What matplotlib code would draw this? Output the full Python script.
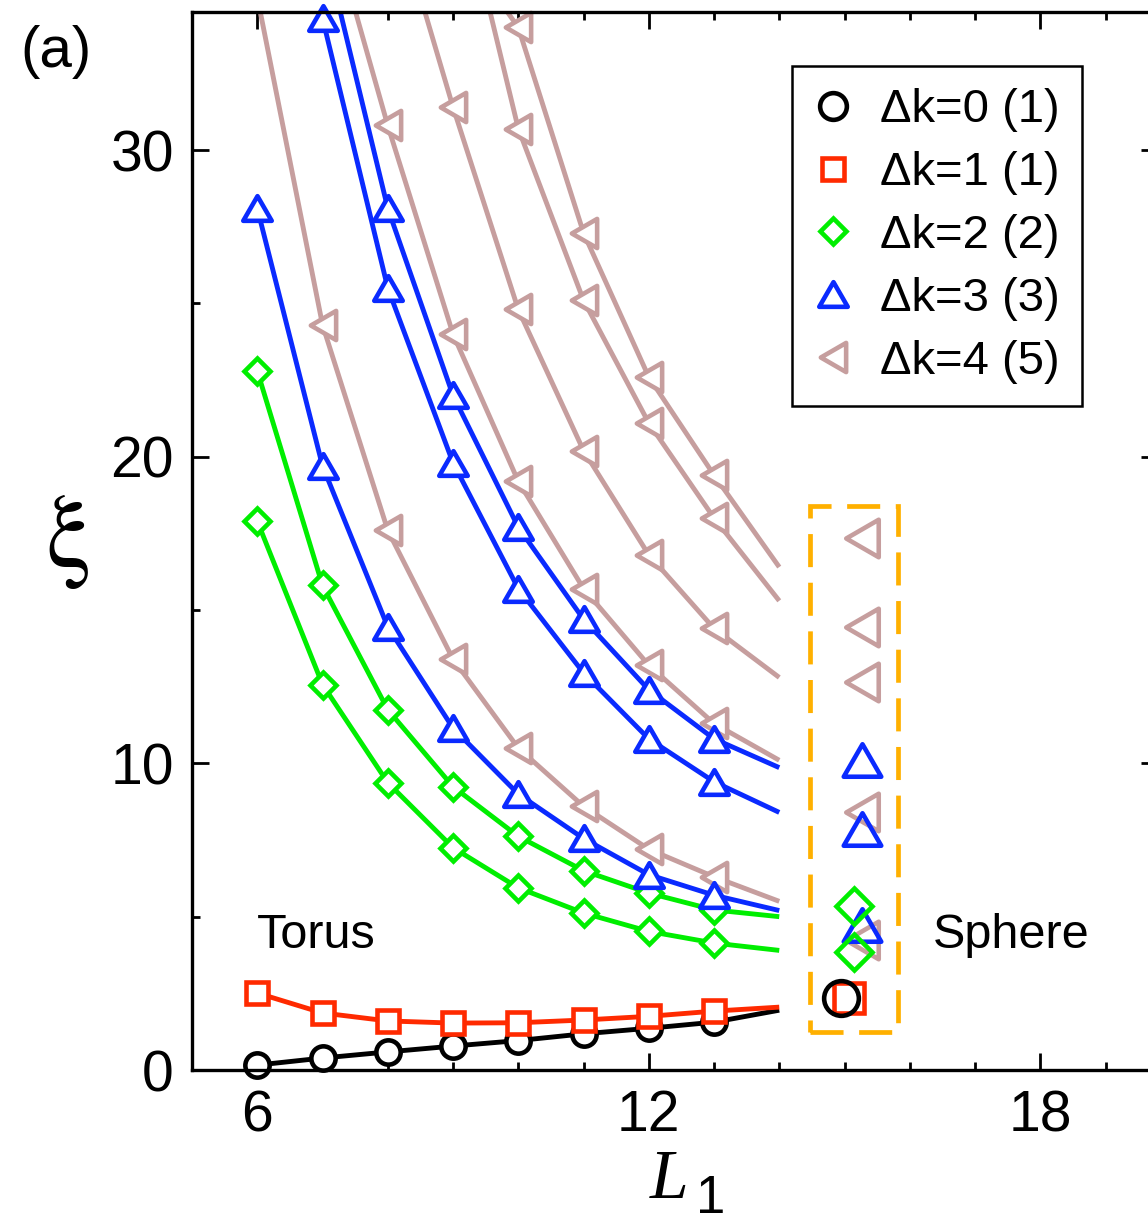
import numpy as np
import matplotlib
matplotlib.use("Agg")
import matplotlib.pyplot as plt
from matplotlib.path import Path
from matplotlib.markers import MarkerStyle
from matplotlib.lines import Line2D
from matplotlib.patches import Rectangle

plt.rcParams["font.family"] = ["Liberation Sans", "DejaVu Sans"]

# ---------------- data ----------------
# Torus: correlation length xi versus L1 (markers at 6..13, curves run on to 14)
L_full = [6, 7, 8, 9, 10, 11, 12, 13, 14]

dk0_xi = [0.16, 0.39, 0.59, 0.78, 0.96, 1.18, 1.36, 1.56, 1.95]
dk1_xi = [2.51, 1.86, 1.60, 1.53, 1.54, 1.63, 1.75, 1.92, 2.05]

dk2a_xi = [22.8, 15.8, 11.75, 9.24, 7.62, 6.50, 5.77, 5.22, 5.00]
dk2b_xi = [17.9, 12.57, 9.37, 7.25, 5.94, 5.12, 4.52, 4.14, 3.90]

dk3a_L = [6, 7, 8, 9, 10, 11, 12, 13, 14]
dk3a_xi = [28.1, 19.7, 14.45, 11.15, 9.0, 7.55, 6.37, 5.70, 5.20]
dk3b_L = [7, 8, 9, 10, 11, 12, 13, 14]
dk3b_xi = [36.9, 28.1, 22.0, 17.7, 14.7, 12.4, 10.8, 9.86]
dk3c_L = [7, 8, 9, 10, 11, 12, 13, 14]
dk3c_xi = [34.3, 25.5, 19.8, 15.7, 12.95, 10.8, 9.4, 8.4]

dk4a_L = [6, 7, 8, 9, 10, 11, 12, 13, 14]
dk4a_xi = [35.0, 24.3, 17.6, 13.4, 10.5, 8.6, 7.2, 6.3, 5.5]
dk4b_L = [7, 8, 9, 10, 11, 12, 13, 14]
dk4b_xi = [38.3, 30.8, 24.0, 19.2, 15.7, 13.2, 11.3, 10.1]
dk4c_L = [8, 9, 10, 11, 12, 13, 14]
dk4c_xi = [38.6, 31.4, 24.8, 20.2, 16.8, 14.4, 12.8]
dk4d_L = [9, 10, 11, 12, 13, 14]
dk4d_xi = [37.0, 34.0, 27.3, 22.6, 19.4, 16.4]
dk4e_L = [9, 10, 11, 12, 13, 14]
dk4e_xi = [39.5, 30.7, 25.1, 21.1, 18.0, 15.3]

# Sphere values
sph0_x, sph0_xi = [14.95], [2.35]
sph1_x, sph1_xi = [15.07], [2.35]
sph2_x, sph2_xi = [15.15, 15.15], [5.34, 3.84]
sph3_x, sph3_xi = [15.27, 15.27, 15.27], [10.12, 7.87, 4.73]
sph4_x, sph4_xi = [15.27] * 5, [17.36, 14.46, 12.64, 8.42, 4.24]

legend_labels = ["\u0394k=0 (1)", "\u0394k=1 (1)", "\u0394k=2 (2)",
                 "\u0394k=3 (3)", "\u0394k=4 (5)"]

# ---------------- style ----------------
C_BLACK = "#000000"
C_RED = "#FF2A00"
C_GREEN = "#00EE00"
C_BLUE = "#0A2AFF"
C_BROWN = "#C69E9E"
C_ORANGE = "#FFB000"

LW = 3.5
MEW = 3.3
XMIN, XMAX = 5.0, 19.8
YMIN, YMAX = 0.0, 34.5
LAST_MARKED = 13

tri_up = MarkerStyle(Path([(0, 0.433), (-0.5, -0.433), (0.5, -0.433), (0, 0.433)],
                          [Path.MOVETO, Path.LINETO, Path.LINETO, Path.CLOSEPOLY]),
                     joinstyle="miter")
tri_left = MarkerStyle(Path([(-0.433, 0), (0.433, 0.5), (0.433, -0.5), (-0.433, 0)],
                            [Path.MOVETO, Path.LINETO, Path.LINETO, Path.CLOSEPOLY]),
                       joinstyle="miter")

STYLE = {
    0: dict(color=C_BLACK, marker="o", ms=17.5, sms=25),
    1: dict(color=C_RED, marker="s", ms=16.5, sms=21.5),
    2: dict(color=C_GREEN, marker="D", ms=13.5, sms=18),
    3: dict(color=C_BLUE, marker=tri_up, ms=20.5, sms=27),
    4: dict(color=C_BROWN, marker=tri_left, ms=21, sms=27),
}

fig = plt.figure(figsize=(11.48, 12.25), dpi=100)
ax_w = (XMAX - XMIN) * 65.25 / 1148
ax = fig.add_axes([192 / 1148, 155 / 1225, ax_w, 1058 / 1225])
ax.set_xlim(XMIN, XMAX)
ax.set_ylim(YMIN, YMAX)


def draw_series(L, xi, k, z):
    st = STYLE[k]
    L = np.asarray(L, float)
    xi = np.asarray(xi, float)
    ax.plot(L, xi, "-", color=st["color"], lw=LW, zorder=z,
            solid_joinstyle="round", solid_capstyle="butt")
    show = (L <= LAST_MARKED) & (xi <= YMAX)
    ax.plot(L[show], xi[show], ls="none", marker=st["marker"], ms=st["ms"],
            mec=st["color"], mfc="white", mew=MEW, zorder=z + 0.01,
            clip_on=False)


def draw_sphere(x, xi, k, z):
    st = STYLE[k]
    ax.plot(x, xi, ls="none", marker=st["marker"], ms=st["sms"],
            mec=st["color"], mfc="none", mew=MEW, zorder=z)


# torus curves
draw_series(L_full, dk0_xi, 0, 2.00)
draw_series(L_full, dk1_xi, 1, 2.03)
draw_series(L_full, dk2a_xi, 2, 2.06)
draw_series(L_full, dk2b_xi, 2, 2.08)
draw_series(dk4a_L, dk4a_xi, 4, 2.10)
draw_series(dk4b_L, dk4b_xi, 4, 2.12)
draw_series(dk4c_L, dk4c_xi, 4, 2.14)
draw_series(dk4d_L, dk4d_xi, 4, 2.16)
draw_series(dk4e_L, dk4e_xi, 4, 2.18)
draw_series(dk3a_L, dk3a_xi, 3, 2.20)
draw_series(dk3b_L, dk3b_xi, 3, 2.22)
draw_series(dk3c_L, dk3c_xi, 3, 2.24)

# sphere points
draw_sphere(sph4_x, sph4_xi, 4, 2.30)
draw_sphere(sph3_x, sph3_xi, 3, 2.32)
draw_sphere(sph2_x, sph2_xi, 2, 2.34)
draw_sphere(sph1_x, sph1_xi, 1, 2.36)
draw_sphere(sph0_x, sph0_xi, 0, 2.38)

# dashed frame around the sphere data
ax.add_patch(Rectangle((14.47, 1.24), 1.35, 17.14, fill=False, ec=C_ORANGE,
                       lw=3.4, ls=(0, (7.0, 3.3)), zorder=2.29))

# axes, ticks
for sp in ax.spines.values():
    sp.set_linewidth(2.4)
ax.set_xticks([6, 12, 18])
ax.set_xticks(np.arange(5, 20, 1), minor=True)
ax.set_yticks([0, 10, 20, 30])
ax.set_yticks([5, 15, 25], minor=True)
ax.tick_params(which="both", direction="in", top=True, right=True, width=2.0,
               labelsize=41)
ax.tick_params(which="major", length=12.5)
ax.tick_params(which="minor", length=6)
ax.tick_params(axis="x", which="major", pad=14)
ax.tick_params(axis="y", which="major", pad=13)

# labels and annotations
ax.text(6.0, 3.98, "Torus", fontsize=35, ha="left", va="baseline")
ax.text(16.36, 3.98, "Sphere", fontsize=35, ha="left", va="baseline")
fig.text(20 / 1148, 1 - 67 / 1225, "(a)", fontsize=42, ha="left", va="baseline")
fig.text(68 / 1148, 1 - 566 / 1225, "\u03be", fontsize=74, ha="center",
         va="baseline", family=["STIXGeneral", "Liberation Serif", "DejaVu Serif"])
fig.text(650 / 1148, 1 - 1198 / 1225, "L", fontsize=50, ha="left",
         va="baseline", family=["Liberation Serif", "DejaVu Serif"],
         style="italic")
fig.text(696 / 1148, 1 - 1213 / 1225, "1", fontsize=38, ha="left",
         va="baseline")

# legend
handles = [Line2D([], [], ls="none", marker=STYLE[k]["marker"],
                  ms=STYLE[k]["ms"] * (1.1 if k == 0 else 1.0),
                  mec=STYLE[k]["color"], mfc="white", mew=MEW)
           for k in range(5)]
leg = ax.legend(handles, legend_labels, loc="upper left",
                bbox_to_anchor=((792 - 192) / (ax_w * 1148), (1070 - 66) / 1058),
                fontsize=34, frameon=True, fancybox=False, edgecolor="black",
                framealpha=1, borderpad=0.47, labelspacing=0.40,
                handlelength=0.78, handletextpad=0.61, borderaxespad=0)
leg.get_frame().set_linewidth(1.8)
leg.set_zorder(3)

fig.savefig("out.png", dpi=100)
